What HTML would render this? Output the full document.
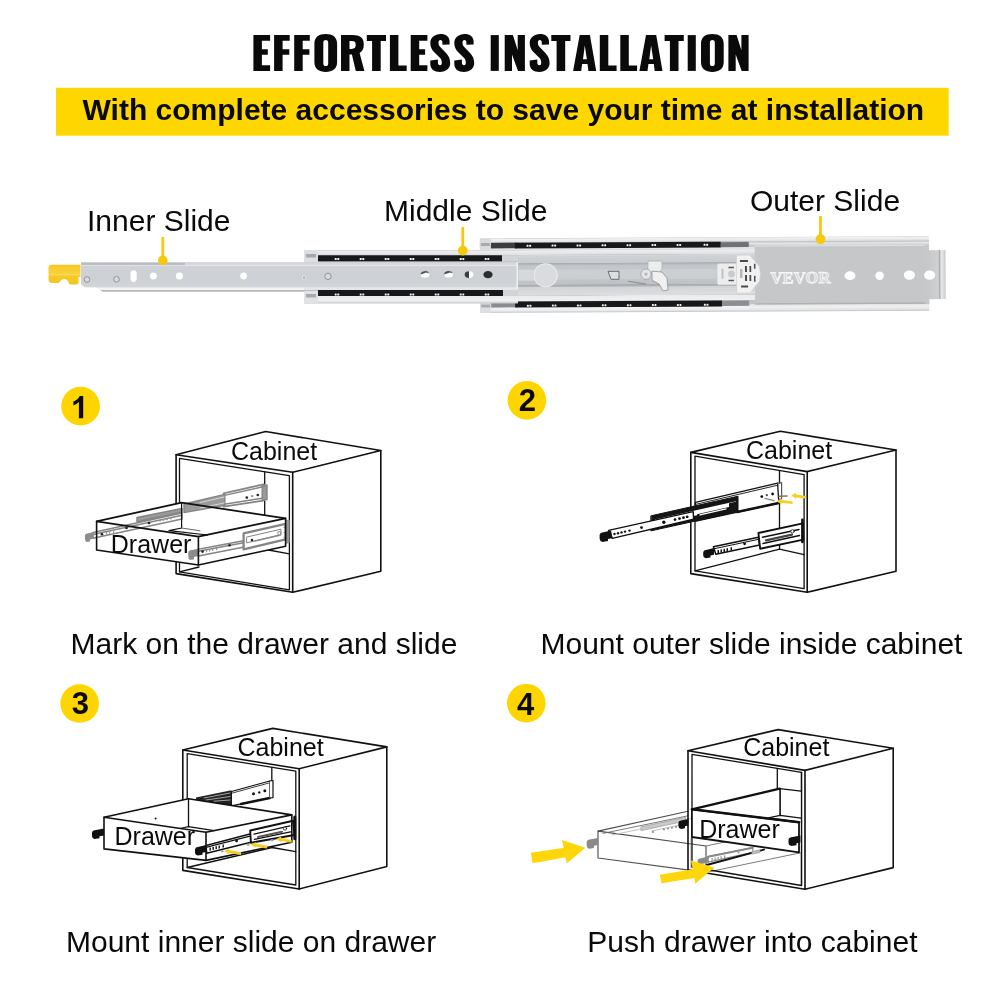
<!DOCTYPE html>
<html>
<head>
<meta charset="utf-8">
<title>Effortless Installation</title>
<style>
html,body{margin:0;padding:0;background:#fff;}
body{width:1000px;height:1000px;overflow:hidden;position:relative;font-family:"Liberation Sans",sans-serif;}
svg{position:absolute;left:0;top:0;display:block;filter:blur(0.42px);}
text{font-family:"Liberation Sans",sans-serif;fill:#0a0a0a;}
.cap{font-size:30px;}
.lbl{font-size:30px;}
.num{font-size:31px;font-weight:bold;text-anchor:middle;}
.cd{font-size:25px;}
</style>
</head>
<body>
<svg width="1000" height="1000" viewBox="0 0 1000 1000">
<defs>
  <!-- condensed heavy title glyphs, cap height 35.8, origin = top-left of glyph -->
  <path id="gE" d="M0 0H16.7V5.7H8.5V14.1H14.4V19.7H8.5V30.1H16.7V35.8H0Z"/>
  <path id="gF" d="M0 0H15.6V5.7H8.5V14.1H15.2V19.7H8.5V35.8H0Z"/>
  <path id="gL" d="M0 0H8.5V30.3H16.8V35.8H0Z"/>
  <path id="gT" d="M0 0H19.2V5.8H13.9V35.8H5.3V5.8H0Z"/>
  <path id="gI" d="M0 0H8.1V35.8H0Z"/>
  <path id="gN" d="M0 0H8.2L13 15.1V0H20.2V35.8H13.3L7.3 19.3V35.8H0Z"/>
  <path id="gA" fill-rule="evenodd" d="M0 35.8L6.6 0H16.8L23.1 35.8H15.3L14.4 28.9H9L8.1 35.8ZM11.7 10.3L13.8 24.1H9.9Z"/>
  <path id="gO" fill-rule="evenodd" d="M0 8.6C0 2 4.5 -1.1 11.35 -1.1C18.2 -1.1 22.7 2 22.7 8.6V27.2C22.7 33.8 18.2 36.9 11.35 36.9C4.5 36.9 0 33.8 0 27.2ZM8.9 8C8.9 5.6 9.7 4.9 11.35 4.9C13 4.9 13.8 5.6 13.8 8V27.8C13.8 30.2 13 30.9 11.35 30.9C9.7 30.9 8.9 30.2 8.9 27.8Z"/>
  <path id="gR" fill-rule="evenodd" d="M0 0H11.5C19 0 22.8 2.6 22.8 9.4C22.8 13.8 21.4 16.4 18.6 17.8L23.4 35.8H14.8L10.9 19.4H8.5V35.8H0ZM8.5 5.8V13.8H10.6C13.6 13.8 14.7 12.6 14.7 9.7C14.7 6.8 13.6 5.8 10.6 5.8Z"/>
  <path id="gS" d="M19.3 9.4V6.7C19.3 1.5 15.5 -1.1 10.3 -1.1C4.5 -1.1 0 2.5 0 7.9C0 11.5 1.2 14.2 3.7 16.9L9.6 22.6C11 24 11.5 25.5 11.5 27.7C11.5 29.5 10.9 30.2 9.7 30.2C8.3 30.2 7.6 29.4 7.6 27.2V24.4L0 25.3V28.9C0 33.9 3.9 36.9 9.7 36.9C15.6 36.9 19.9 33.5 19.9 28C19.9 23.9 18.4 20.5 15.7 17.8L10.2 12.2C8.7 10.7 8.2 9.4 8.2 7.6C8.2 5.7 8.9 4.9 10.1 4.9C11.5 4.9 12.1 5.8 12.1 7.6V9.7Z"/>
</defs>

<!-- ===== TITLE ===== -->
<g fill="#0a0a0a" id="title">
  <use href="#gE" x="253.4" y="35.1"/>
  <use href="#gF" x="274.1" y="35.1"/>
  <use href="#gF" x="294.2" y="35.1"/>
  <use href="#gO" x="314.4" y="35.1"/>
  <use href="#gR" x="341" y="35.1"/>
  <use href="#gT" x="366.8" y="35.1"/>
  <use href="#gL" x="389.9" y="35.1"/>
  <use href="#gE" x="410.7" y="35.1"/>
  <use href="#gS" x="430.3" y="35.1"/>
  <use href="#gS" x="454.3" y="35.1"/>
  <use href="#gI" x="490.7" y="35.1"/>
  <use href="#gN" x="504.7" y="35.1"/>
  <use href="#gS" x="529.7" y="35.1"/>
  <use href="#gT" x="551.3" y="35.1"/>
  <use href="#gA" x="573.1" y="35.1"/>
  <use href="#gL" x="599.8" y="35.1"/>
  <use href="#gL" x="620.3" y="35.1"/>
  <use href="#gA" x="639.4" y="35.1"/>
  <use href="#gT" x="664.6" y="35.1"/>
  <use href="#gI" x="687.7" y="35.1"/>
  <use href="#gO" x="701" y="35.1"/>
  <use href="#gN" x="728.4" y="35.1"/>
</g>

<!-- ===== YELLOW BAR ===== -->
<rect x="56" y="87.8" width="892.7" height="47.9" fill="#ffd700"/>
<text x="82.5" y="119.7" style="font-size:30px;font-weight:bold" id="bartxt">With complete accessories to save your time at installation</text>

<!-- ===== SLIDE LABELS ===== -->
<text class="lbl" x="87" y="231.3" id="l1">Inner Slide</text>
<text class="lbl" x="384" y="221.1" id="l2">Middle Slide</text>
<text class="lbl" x="750" y="211.1" id="l3">Outer Slide</text>

<!-- ===== RAIL ===== -->
<defs>
  <linearGradient id="gOut" x1="0" y1="238.5" x2="0" y2="313" gradientUnits="userSpaceOnUse">
    <stop offset="0" stop-color="#c9cbcd"/><stop offset="0.012" stop-color="#f1f2f3"/><stop offset="0.05" stop-color="#e2e4e6"/>
    <stop offset="0.055" stop-color="#bfc2c5"/><stop offset="0.13" stop-color="#c6c9cc"/>
    <stop offset="0.135" stop-color="#e6e8ea"/><stop offset="0.165" stop-color="#dcdee0"/>
    <stop offset="0.84" stop-color="#d6d8db"/><stop offset="0.845" stop-color="#bfc2c5"/><stop offset="0.925" stop-color="#c4c7ca"/>
    <stop offset="0.93" stop-color="#f3f4f5"/><stop offset="0.975" stop-color="#e9ebec"/><stop offset="1" stop-color="#bdbfc2"/>
  </linearGradient>
  <linearGradient id="gOutR" x1="0" y1="238.5" x2="0" y2="313" gradientUnits="userSpaceOnUse">
    <stop offset="0" stop-color="#cfd1d3"/><stop offset="0.02" stop-color="#eeeff0"/><stop offset="0.05" stop-color="#dfe1e3"/>
    <stop offset="0.065" stop-color="#c2c4c7"/><stop offset="0.085" stop-color="#e4e6e8"/><stop offset="0.11" stop-color="#d1d3d6"/>
    <stop offset="0.115" stop-color="#c4c6c9"/><stop offset="0.5" stop-color="#c9cbcd"/><stop offset="0.9" stop-color="#c2c4c7"/>
    <stop offset="0.905" stop-color="#dfe1e3"/><stop offset="0.94" stop-color="#f0f1f2"/><stop offset="0.975" stop-color="#e0e2e4"/><stop offset="1" stop-color="#b8babd"/>
  </linearGradient>
  <linearGradient id="gMid" x1="0" y1="250" x2="0" y2="303.5" gradientUnits="userSpaceOnUse">
    <stop offset="0" stop-color="#c4c7ca"/><stop offset="0.02" stop-color="#eceef0"/><stop offset="0.09" stop-color="#dfe1e4"/>
    <stop offset="0.10" stop-color="#b9bcc0"/><stop offset="0.22" stop-color="#c0c3c6"/>
    <stop offset="0.225" stop-color="#d9dbde"/><stop offset="0.74" stop-color="#d4d6d9"/>
    <stop offset="0.745" stop-color="#b9bcc0"/><stop offset="0.86" stop-color="#c0c3c6"/>
    <stop offset="0.865" stop-color="#e9ebed"/><stop offset="0.95" stop-color="#eff0f2"/><stop offset="1" stop-color="#c2c5c8"/>
  </linearGradient>
  <linearGradient id="gMidFace" x1="0" y1="255" x2="0" y2="296" gradientUnits="userSpaceOnUse">
    <stop offset="0" stop-color="#dddfe2"/><stop offset="0.05" stop-color="#cfd2d5"/><stop offset="0.2" stop-color="#c9ccd0"/><stop offset="0.215" stop-color="#a9acb0"/>
    <stop offset="0.255" stop-color="#b9bcc0"/><stop offset="0.27" stop-color="#c2c5c9"/><stop offset="0.36" stop-color="#c4c7cb"/><stop offset="0.38" stop-color="#cdd0d3"/>
    <stop offset="0.6" stop-color="#cbced1"/><stop offset="0.62" stop-color="#c1c4c8"/><stop offset="0.725" stop-color="#bec1c5"/>
    <stop offset="0.74" stop-color="#a6a9ad"/><stop offset="0.78" stop-color="#b4b7bb"/><stop offset="0.8" stop-color="#d2d4d7"/><stop offset="1" stop-color="#dcdee0"/>
  </linearGradient>
  <linearGradient id="gInner" x1="0" y1="262" x2="0" y2="292" gradientUnits="userSpaceOnUse">
    <stop offset="0" stop-color="#c6c9cc"/><stop offset="0.03" stop-color="#b7babe"/><stop offset="0.10" stop-color="#bcbfc3"/>
    <stop offset="0.115" stop-color="#dfe1e4"/><stop offset="0.15" stop-color="#ced1d5"/>
    <stop offset="0.55" stop-color="#cdd0d4"/><stop offset="0.84" stop-color="#d3d6d9"/>
    <stop offset="0.86" stop-color="#f4f5f6"/><stop offset="0.925" stop-color="#f1f2f3"/>
    <stop offset="0.94" stop-color="#b4b7ba"/><stop offset="1" stop-color="#c9cbce"/>
  </linearGradient>
  <linearGradient id="gTip" x1="0" y1="264.8" x2="0" y2="284.5" gradientUnits="userSpaceOnUse">
    <stop offset="0" stop-color="#f3c426"/><stop offset="0.15" stop-color="#f8cc2c"/><stop offset="0.42" stop-color="#f9d03a"/>
    <stop offset="0.5" stop-color="#fbd84e"/><stop offset="0.58" stop-color="#f7ca2a"/><stop offset="1" stop-color="#f2c220"/>
  </linearGradient>
  <linearGradient id="gTab" x1="929" y1="0" x2="946" y2="0" gradientUnits="userSpaceOnUse">
    <stop offset="0" stop-color="#c6c8ca"/><stop offset="0.55" stop-color="#cfd1d3"/><stop offset="0.62" stop-color="#a9abae"/>
    <stop offset="0.72" stop-color="#e8e9ea"/><stop offset="0.9" stop-color="#d4d6d8"/><stop offset="1" stop-color="#b0b2b5"/>
  </linearGradient>
  <g id="bb"><rect x="-2.3" y="-1" width="2" height="2" rx="0.6" fill="#f4f4f4"/><rect x="0.3" y="-1" width="2" height="2" rx="0.6" fill="#f4f4f4"/></g>
</defs>
<g id="rail">
 <!-- outer slide (slightly rotated like the photo) -->
 <g transform="rotate(-0.3 480 275)">
  <rect x="480" y="238.5" width="449" height="74.5" fill="url(#gOut)"/>
  <!-- middle slide face visible inside outer -->
  <rect x="518" y="250.5" width="237" height="51" fill="url(#gMid)"/>
  <rect x="518" y="255.5" width="237" height="40.5" fill="url(#gMidFace)"/>
  <circle cx="545.6" cy="275.6" r="11.6" fill="#d9dbde" stroke="#eceef0" stroke-width="1"/>
  <rect x="519" y="270" width="15" height="11" fill="#d6d8db"/>
  <!-- black ball tracks -->
  <rect x="491" y="243" width="26" height="5.5" fill="#3b3d3f"/>
  <rect x="515" y="243" width="206" height="5.7" fill="#17181a"/>
  <rect x="721" y="243.4" width="28" height="5" fill="#6f7275"/>
  <rect x="491" y="301.8" width="26" height="5.7" fill="#8a8d90"/>
  <rect x="515" y="301.8" width="207" height="5.9" fill="#17181a"/>
  <rect x="722" y="302" width="27" height="5.2" fill="#8c8f92"/>
  <g>
   <use href="#bb" x="529" y="246"/><use href="#bb" x="554" y="246"/><use href="#bb" x="579" y="246"/><use href="#bb" x="604" y="246"/><use href="#bb" x="629" y="246"/><use href="#bb" x="654" y="246"/><use href="#bb" x="679" y="246"/><use href="#bb" x="706" y="246"/>
   <use href="#bb" x="529" y="306"/><use href="#bb" x="554" y="306"/><use href="#bb" x="579" y="306"/><use href="#bb" x="604" y="306"/><use href="#bb" x="629" y="306"/><use href="#bb" x="654" y="306"/><use href="#bb" x="679" y="306"/><use href="#bb" x="706" y="306"/>
  </g>
  <!-- small left-end brackets of outer -->
  <rect x="480" y="238.5" width="11" height="11" fill="#d9dbdd"/><rect x="481" y="243" width="9" height="3" fill="#a9acaf"/>
  <rect x="480" y="302" width="11" height="11" fill="#dcdee0"/><rect x="481" y="304.5" width="9" height="3" fill="#a9acaf"/>
  <!-- latch mechanism -->
  <path d="M648 262h14v8l-3 4h-11z" fill="#eceded" stroke="#a9acaf" stroke-width="0.7"/>
  <circle cx="646" cy="275" r="5.2" fill="#e4e5e6" stroke="#9fa2a5" stroke-width="0.8"/><circle cx="646" cy="275" r="1.7" fill="#b7babd"/>
  <path d="M652 272l10 1 5 6 1 12-5 1-4-7-7-4z" fill="#f0f0f0" stroke="#8d9093" stroke-width="0.8"/>
  <path d="M628 282l18 3" stroke="#8d9093" stroke-width="1.2" fill="none"/>
  <path d="M608 272h11v8h-8z" fill="#dcdee0" stroke="#5d6063" stroke-width="0.9"/>
  <!-- brushed end plate -->
  <path d="M749 240.5h180v70.5h-180l0-4.5 6-3v-55l-6-3z" fill="url(#gOutR)"/>
  <rect x="755" y="247" width="174" height="59" fill="#c5c7c9"/>
  <rect x="755" y="247" width="174" height="1" fill="#e2e3e5"/>
  <rect x="755" y="304.6" width="174" height="1.4" fill="#aeb0b3"/>
  <!-- end tab -->
  <path d="M925 247h4v5.5h16.5v49h-16.5v4.500h-4z" fill="url(#gTab)"/>
  <!-- holes -->
  <ellipse cx="850" cy="277.6" rx="5.4" ry="4.4" fill="#fff"/>
  <ellipse cx="879.6" cy="277.8" rx="4.3" ry="4.2" fill="#fff"/>
  <ellipse cx="909.4" cy="277.4" rx="5.6" ry="4.7" fill="#fff"/>
  <ellipse cx="929.6" cy="277.5" rx="5.6" ry="4.6" fill="#fff"/>
  <!-- VEVOR -->
  <text x="770.5" y="284.8" style="font-family:'Liberation Serif',serif;font-weight:bold;font-size:16.5px;letter-spacing:0.2px;fill:#d2d4d6;stroke:#f6f6f6;stroke-width:0.9" textLength="60" lengthAdjust="spacingAndGlyphs">VEVOR</text>
  <!-- plastic clip -->
  <rect x="717" y="264.7" width="21" height="21.5" rx="2" fill="#ededee" stroke="#c2c4c6" stroke-width="0.6"/>
  <rect x="721.5" y="270" width="2" height="10" fill="#bfc1c3"/>
  <circle cx="731.5" cy="275.3" r="3.4" fill="#c9cbcd"/>
  <rect x="728.500" y="268" width="5.500" height="1.500" fill="#555"/><rect x="728.500" y="281" width="5.500" height="1.500" fill="#555"/>
  <path d="M736.500 256.500h13.500l4 5 5.500 6.500 1 7.500-1 7.500-5.500 6.500-4 5h-13.500z" fill="#f1f1f2" stroke="#c9cbcd" stroke-width="0.6"/>
  <g fill="#4a4c4e">
   <rect x="740" y="261.300" width="8" height="2"/><rect x="741" y="286.800" width="7" height="2"/>
   <rect x="745" y="267.300" width="2" height="6"/><rect x="749.500" y="267.300" width="1.700" height="6"/>
   <rect x="745" y="276.300" width="2" height="6"/><rect x="749.500" y="276.300" width="1.700" height="6"/>
   <rect x="754" y="265.300" width="1.500" height="5"/><rect x="754" y="277.300" width="1.500" height="6"/>
  </g>
  <rect x="740" y="270.300" width="2.500" height="9" fill="#b5b7b9"/>
 </g>

 <!-- middle slide -->
 <rect x="304" y="250" width="214" height="53.5" fill="url(#gMid)"/>
 <rect x="304" y="250" width="14" height="12" fill="#dddfe1"/><rect x="306" y="254" width="10" height="3.500" fill="#a6a9ac"/>
 <rect x="304" y="291" width="14" height="12.500" fill="#e0e2e4"/><rect x="306" y="294" width="10" height="3.500" fill="#a6a9ac"/>
 <rect x="318" y="255.300" width="184" height="6" fill="#17181a"/>
 <rect x="318" y="290" width="185" height="6" fill="#17181a"/>
 <rect x="502" y="255.300" width="16" height="6" fill="#d2d4d7"/><rect x="503" y="290" width="15" height="6" fill="#d2d4d7"/>
 <g>
  <use href="#bb" x="337" y="259"/><use href="#bb" x="362" y="259"/><use href="#bb" x="387" y="259"/><use href="#bb" x="412" y="259"/><use href="#bb" x="437" y="259"/><use href="#bb" x="462" y="259"/><use href="#bb" x="487" y="259"/>
  <use href="#bb" x="337" y="294.500"/><use href="#bb" x="362" y="294.500"/><use href="#bb" x="387" y="294.500"/><use href="#bb" x="412" y="294.500"/><use href="#bb" x="437" y="294.500"/><use href="#bb" x="462" y="294.500"/><use href="#bb" x="487" y="294.500"/>
 </g>

 <!-- inner slide -->
 <path d="M81 262.200H517.500V287.600H304V292H103L96 287.600H85L81 284.500Z" fill="url(#gInner)"/>
 <rect x="304" y="287.600" width="213.500" height="2.400" fill="#e4e6e8"/>
 <rect x="516.500" y="262.200" width="1.500" height="27" fill="#eef0f1"/>
 <rect x="185" y="262.500" width="332" height="3" fill="#fff" opacity="0.420"/>
 <!-- rivets / holes in inner -->
 <g fill="#d9dbde" stroke="#8f9296" stroke-width="1"><circle cx="87" cy="279.500" r="2.800"/><circle cx="116.500" cy="279.300" r="2.800"/><circle cx="328" cy="276.400" r="3.200"/></g>
 <rect x="130.500" y="270.300" width="6.200" height="11.600" rx="3.100" fill="#fff"/>
 <circle cx="153.400" cy="276" r="3.400" fill="#fff"/><circle cx="179.400" cy="276" r="3.600" fill="#fff"/><circle cx="243.600" cy="276" r="3.400" fill="#fff"/>
 <rect x="302.600" y="276" width="3" height="3" fill="#aeb1b4" stroke="#f1f2f3" stroke-width="0.600"/>
 <ellipse cx="425" cy="274.600" rx="4.400" ry="3.200" fill="#fff"/><path d="M420.600 274.600a4.400 3.200 0 0 1 8.600 -1.200l-3 -0.800z" fill="#4b4d50"/>
 <ellipse cx="448.600" cy="274.400" rx="4.400" ry="3.200" fill="#fff"/><path d="M444.200 274.400a4.400 3.200 0 0 1 8.600 -1.200l-3 -0.800z" fill="#4b4d50"/>
 <ellipse cx="469" cy="274.600" rx="4.400" ry="3.400" fill="#fff"/><path d="M469 271.200a4.400 3.400 0 0 0 0 6.800z" fill="#3b3d40"/>
 <ellipse cx="488" cy="274.600" rx="4.600" ry="3.600" fill="#2c2d2f"/>

 <!-- yellow tip -->
 <path d="M51.500 264.800H80.500V277H78.500V282.500Q78.500 284.500 76.500 284.500H71Q69 284.500 68.600 282.500Q67.500 279 64.200 279Q61 279 60 281.500Q59.500 283 57.500 283H52Q48.500 283 48.500 279.500V267.800Q48.500 264.800 51.500 264.800Z" fill="url(#gTip)"/>
</g>

<!--/RAIL-->

<!-- pointers -->
<g stroke="#f6c90e" stroke-width="2.800" fill="#f6c90e">
  <line x1="162.8" y1="237" x2="162.8" y2="260"/><circle cx="162.8" cy="260.3" r="4.800" stroke="none"/>
  <line x1="462.8" y1="227" x2="462.8" y2="250"/><circle cx="462.8" cy="250.6" r="4.900" stroke="none"/>
  <line x1="820.5" y1="216" x2="820.5" y2="239"/><circle cx="820.5" cy="239.2" r="4.900" stroke="none"/>
</g>

<!-- ===== STEP NUMBERS ===== -->
<g fill="#ffd500">
  <circle cx="80.6" cy="406.1" r="19.4"/>
  <circle cx="526.9" cy="400.4" r="19.3"/>
  <circle cx="79.7" cy="703.5" r="19.3"/>
  <circle cx="526.3" cy="703.2" r="19.3"/>
</g>
<path id="n1" d="M83.200 418.200H78.900V402Q76.500 404.300 73.400 405.400V401.500Q75.100 400.900 77 399.400Q79 397.900 79.700 396H83.200Z" fill="#0a0a0a"/>
<text class="num" x="527.3" y="411.4" id="n2">2</text>
<text class="num" x="80.4" y="714.4" id="n3">3</text>
<text class="num" x="525.7" y="714.8" id="n4">4</text>

<!--P1-->
<!-- ===== PANEL 1 ===== -->
<g id="p1" fill="none" stroke="#111" stroke-width="1.6" stroke-linejoin="round" stroke-linecap="round">
 <!-- cabinet -->
 <path d="M176.100 454.800L265.600 431.500L380.800 450.500L292.700 472.300Z"/>
 <path d="M176.100 454.800V573.600L292.700 592.300V472.300"/>
 <path d="M380.800 450.500V571.200L292.700 592.300"/>
 <path d="M179.500 571.800V458.400L289.400 475.700V589.800Z" stroke-width="1.300"/>
 <path d="M264.700 471.800V484" stroke-width="1.300"/>
 <path d="M264.700 501V514.500" stroke-width="1.300"/>
 <path d="M179.500 571.800L199 567" stroke-width="1.300"/>
 <path d="M268.500 550L289.400 553.800" stroke-width="1.300"/>

 <!-- drawer silhouette (hides cabinet lines) -->
 <path d="M96.600 521.400L181.600 502.600L285.600 518.400V546.200L198.400 565L96.600 550Z" fill="#fff" stroke="none"/>
 <!-- far slide on cabinet left wall (seen through) -->
 <g stroke="#858585" stroke-width="1.400">
  <path d="M223.6 493.4L263.400 484.300V500.600L223.600 506.600Z" fill="#fff" stroke-width="1.700"/>
  <path d="M223.6 495.600L262 487" /><path d="M224 504.300L262 498.200"/>
  <path d="M262.200 486L267 485V499.500L262.200 500.600Z" fill="#9a9a9a"/>
  <path d="M184 504L224.800 494.400V505.200L184 512.600Z" fill="#9b9b9b"/>
  <path d="M200 502.500L224 497M200 508L224 503" stroke="#d8d8d8" stroke-width="1"/>
 </g>
 <g fill="#222" stroke="none"><circle cx="246.800" cy="497.600" r="1.300"/><circle cx="257.800" cy="495" r="1.300"/><circle cx="252.200" cy="496.200" r="1.100" fill="#888"/></g>
 <!-- inner slide on drawer's left side (seen through) -->
 <g stroke="#858585" stroke-width="1.500">
  <path d="M93 532.600L182 513V519L93 538.200Z" fill="#fff"/>
  <path d="M93 534.600L182 515.200" />
  <path d="M137 517.500L182 508.500V512L137 521.800Z" fill="#9b9b9b"/>
  <path d="M85 535.500Q85 533.500 87.500 533.500L93.500 532V538.500L90 539.500V541.500L86.500 542Q85 541 85 539Z" fill="#8c8c8c" stroke="none"/>
 </g>
 <g fill="#222" stroke="none"><circle cx="102" cy="534.200" r="1.300"/><circle cx="126.500" cy="528" r="1.300"/><circle cx="149" cy="523" r="1.300"/></g>
 <g fill="#9a9a9a" stroke="none"><rect x="106" y="532" width="1.200" height="2.600"/><rect x="109" y="531.300" width="1.200" height="2.600"/><rect x="113" y="530.500" width="1.200" height="2.600"/>
  <circle cx="160" cy="520.800" r="1"/><circle cx="163.500" cy="520" r="1"/><circle cx="167" cy="519.300" r="1"/><circle cx="171" cy="518.500" r="1"/></g>

 <!-- near slide on drawer right side -->
 <g stroke="#858585" stroke-width="1.500">
  <path d="M198.400 549.200L262 537.300V543.500L198.400 556Z" fill="#fff"/>
  <path d="M198.400 551.200L262 539.200"/>
  <path d="M243.600 533.400L285.600 523.800V539.400L243.600 549.400Z" fill="#fff" stroke-width="2.300"/>
  <path d="M255 541L279 535.500" stroke-width="1.600" stroke="#9a9a9a"/>
  <rect x="278.300" y="531.800" width="2.200" height="3.600" fill="#fff" stroke-width="0.800" transform="rotate(-12 279 533)"/>
  <path d="M284 527.500L289 526.500M284 532.500L289 531.500M284 537.500L289 536.500" stroke-width="1.200"/>
  <path d="M247 537L281 529.200V534.600L247 542.800Z" stroke-width="1"/>
  <path d="M286.200 520.500L289.300 520V542.500L286.200 543.300Z" fill="#9a9a9a" stroke-width="0.800"/>
  <path d="M188.300 552.500Q188.300 550.500 190.500 550.300L198.400 548.800V556L194 557V559.300L190 560Q188.300 559 188.300 557Z" fill="#8c8c8c" stroke="none"/>
 </g>
 <g fill="#222" stroke="none"><circle cx="202.600" cy="551.600" r="1.300"/><circle cx="229.500" cy="545.200" r="1.300"/><circle cx="252" cy="540" r="1.300"/></g>
 <g fill="#9a9a9a" stroke="none"><rect x="206" y="549.600" width="1.200" height="2.600"/><rect x="209" y="549" width="1.200" height="2.600"/><rect x="212" y="548.400" width="1.200" height="2.600"/><rect x="216" y="547.600" width="1.200" height="2.600"/></g>

 <!-- drawer -->
 <path d="M96.600 521.400L198.400 536.600V565L96.600 550Z"/>
 <path d="M96.600 521.400L181.600 502.600L285.600 518.400L198.400 536.600"/>
 <path d="M285.600 518.400V546.200L198.400 565"/>
 <path d="M181.600 502.600V528L169 530.600L207.500 535" stroke-width="1.200"/>
 <path d="M181.600 528L200 530.800" stroke-width="1" stroke="#666"/>
</g>
<text class="cd" x="231" y="459.800" id="cab1">Cabinet</text>
<text class="cd" x="110.800" y="552.600" id="drw1">Drawer</text>

<!--/P1-->
<!--P2-->
<!-- ===== PANEL 2 ===== -->
<g id="p2" fill="none" stroke="#111" stroke-width="1.600" stroke-linejoin="round" stroke-linecap="round">
 <!-- cabinet -->
 <path d="M690.800 452.400L780.300 431.300L896 450L807.200 471.600Z"/>
 <path d="M690.800 452.400V573.600L807.200 592.300V471.600"/>
 <path d="M896 450V571.200L807.200 592.300"/>
 <path d="M695 570.800V456.100L804.100 474.700V588.700Z" stroke-width="1.300"/>
 <path d="M779.500 471V483M779.500 503.500V549.200" stroke-width="1.300"/>
 <path d="M695 570.800L779.500 549.200L804.100 554.600" stroke-width="1.300"/>

 <!-- lower slide -->
 <path d="M713.400 546.800L758.400 537.200L759.600 545L715.800 554.200Z" fill="#fff" stroke-width="1.500"/>
 <path d="M714 548.800L758.600 539.300" stroke-width="1"/>
 <path d="M758.400 533L802.800 523.400L803.400 539.600L760.200 548.800Z" fill="#fff" stroke-width="1.900"/>
 <path d="M762.500 537.200L799 529.400M763 543.500L799.500 535.600" stroke-width="1.500"/>
 <path d="M766 540.300L792 534.700" stroke-width="2.200" stroke="#444"/>
 <path d="M802.400 519.800V542" stroke-width="2.600"/>
 <path d="M703.200 553Q703.200 550.400 706 550L714 548V554.800L710.500 555.600V557.400L705.500 558.200Q703.200 557.400 703.200 555.500Z" fill="#111" stroke="none"/>
 <g fill="#111" stroke="none"><rect x="717.500" y="550" width="1.500" height="3.200"/><rect x="720.500" y="549.400" width="1.500" height="3.200"/><rect x="723.500" y="548.800" width="1.500" height="3.200"/><rect x="726.500" y="548.200" width="1.500" height="3.200"/><rect x="730.500" y="547.300" width="1.500" height="3.200"/>
  <circle cx="744.600" cy="543.800" r="1.400"/><circle cx="792.500" cy="531.300" r="1.700" fill="#fff" stroke="#111" stroke-width="0.800"/></g>

 <!-- upper slide -->
 <!-- outer member -->
 <path d="M695.400 502.400L777.600 483.200L778.800 503L696 521Z" fill="#fff" stroke-width="1.300"/>
 <path d="M695.600 504.400L777.700 485.200" stroke-width="0.900"/>
 <path d="M737 512L778.800 503" stroke-width="2.600"/>
 <path d="M777.600 483.200L781.600 482.600V498.800L778.600 499.400" stroke-width="1.200" stroke="#555"/>
 <!-- middle member (dark) -->
 <path d="M651.200 515.800L738 496.200V511.600L651.200 530.800Z" fill="#151515" stroke-width="1"/>
 <path d="M655 519.600L736 501.300V506.600L655 524.800Z" fill="#fff" stroke="none"/>
 <path d="M697 514.300L729 507V510.300L697 517.600Z" fill="#151515" stroke="none"/>
 <path d="M700 514.800L726 508.900" stroke="#fff" stroke-width="1.300"/>
 <path d="M729 503.300L737.500 501.300V510L729 512Z" fill="#151515" stroke="none"/>
 <!-- inner member -->
 <path d="M608.600 530.400L693.200 511.600L693.600 519.200L612.200 538.400Z" fill="#fff" stroke-width="1.400"/>
 <path d="M599.600 535.400Q599.600 533 602.400 532.600L611 530.400L612.600 538L608 539V541L602.500 542Q599.600 541 599.600 538.500Z" fill="#111" stroke="none"/>
 <g fill="#111" stroke="none">
  <circle cx="614.500" cy="534" r="1.200"/><circle cx="618" cy="533.200" r="1.200"/><circle cx="621.500" cy="532.400" r="1.200"/><circle cx="625" cy="531.600" r="1.200"/><circle cx="629.500" cy="530.600" r="1.200"/>
  <circle cx="641.500" cy="527.600" r="1.400"/><circle cx="663.800" cy="522.200" r="1.700"/>
  <circle cx="675" cy="519.600" r="1.400"/><circle cx="679.500" cy="518.600" r="1.400"/><circle cx="683.500" cy="517.700" r="1.400"/><circle cx="687.200" cy="516.800" r="1.400"/>
  <circle cx="761.800" cy="496.600" r="1.400"/><circle cx="766.800" cy="495.200" r="1.100" fill="#444"/><circle cx="772.600" cy="494" r="1.400"/>
 </g>
 <!-- screws -->
 <path d="M765 498.400L774 500.600" stroke="#888" stroke-width="1.400"/>
 <path d="M779 496.300L787 496" stroke="#777" stroke-width="1.600"/>
 <!-- cabinet front-left lines over slide? (slide passes in front) -->
</g>
<!-- yellow arrows -->
<g fill="#f7cf1e">
 <path d="M791.400 495.600L796 492.800V494.600L805.800 496V498.600L796 497.400V499Z"/>
 <path d="M776.600 501.200L781.600 498.400V500L792.600 501.400V504L781.600 502.800V504.400Z"/>
</g>
<text class="cd" x="746" y="458.900" id="cab2">Cabinet</text>

<!--/P2-->
<!--P3-->
<!-- ===== PANEL 3 ===== -->
<g id="p3" fill="none" stroke="#111" stroke-width="1.600" stroke-linejoin="round" stroke-linecap="round">
 <!-- cabinet -->
 <path d="M182.800 750L272.800 728.400L386.800 746.900L299.200 768.700Z"/>
 <path d="M182.800 750V870.400L299.200 889V768.700"/>
 <path d="M386.800 746.900V866.400L299.200 889"/>
 <path d="M187.200 867.500V753.600L295.800 771.100V885Z" stroke-width="1.300"/>
 <path d="M271.800 767.500V781" stroke-width="1.300"/>
 <path d="M187.200 867.500L272 847.500L295.800 851.600" stroke-width="1.300"/>

 <!-- upper slide on cabinet wall -->
 <path d="M231.400 791.500L269.700 781V798L231.400 805.800Z" fill="#fff" stroke-width="1.200"/>
 <path d="M231.400 793.300L269.700 782.800" stroke-width="0.800"/>
 <path d="M241 804L269.700 798" stroke-width="2.400"/>
 <path d="M269.700 781L273 780.500V797.600L269.700 798" stroke-width="1.200" fill="#fff"/>
 <path d="M196 797.400L231.400 790.300V805.600L196 800.200Z" fill="#222" stroke="none"/>
 <path d="M204 798L230 793M206 800L230 796.500M214 801.200L230 800" stroke="#ddd" stroke-width="0.700"/>
 <g fill="#111" stroke="none"><circle cx="253.500" cy="793.800" r="1.500"/><circle cx="259.300" cy="792.400" r="1.200"/><circle cx="264.800" cy="790.800" r="1.500"/></g>

 <!-- drawer body (opaque) -->
 <path d="M104 817.200L188.500 798.700L291.800 814.900V842.200L206 860.400L104 848.900Z" fill="#fff" stroke="none"/>
 <!-- right slide on drawer -->
 <path d="M206 845.400L250.900 833.700V842.200L206.700 853.200Z" fill="#fff" stroke-width="1.500"/>
 <path d="M206 847.300L250.900 835.800" stroke-width="1.200"/>
 <path d="M250.200 830.500L293.100 820.700L294.400 835L250.900 842.800Z" fill="#fff" stroke-width="1.900"/>
 <path d="M254 834.200L290 825.800M254.500 839.300L290.500 831.800" stroke-width="1.300"/>
 <path d="M258 837L282 831.800" stroke-width="2" stroke="#555"/>
 <path d="M294.800 817V838.800" stroke-width="3"/>
 <g fill="#111" stroke="none"><rect x="209.500" y="847.600" width="1.400" height="3"/><rect x="212.500" y="846.900" width="1.400" height="3"/><rect x="215.500" y="846.200" width="1.400" height="3"/><rect x="218.500" y="845.500" width="1.400" height="3"/><rect x="222.500" y="844.500" width="1.400" height="3"/>
  <circle cx="236.600" cy="840.900" r="1.400"/><circle cx="285" cy="828.600" r="1.600" fill="#fff" stroke="#111" stroke-width="0.800"/></g>
 <g stroke="#999" stroke-width="1"><circle cx="222" cy="851.300" r="0.900"/><circle cx="248" cy="844.700" r="0.900"/><circle cx="272" cy="840.200" r="0.900"/></g>

 <!-- drawer lines -->
 <path d="M104 817.200L206 832.300V860.400L104 848.900Z" fill="#fff"/>
 <path d="M104 817.200L188.500 798.700L291.800 814.900L206 832.300"/>
 <path d="M291.800 814.900V842.200L206 860.400"/>
 <path d="M188.500 798.700V826.600" stroke-width="1.300"/>
 <path d="M180 828.500L188.500 826.600L214.200 830.600" stroke-width="1.200"/>
 <circle cx="155.600" cy="818.400" r="1" fill="#111" stroke="none"/>
 <path d="M195 850Q195 847.400 197.800 847L206 845V852L202.500 852.800V854.800L197.500 855.600Q195 854.800 195 852.800Z" fill="#111" stroke="none"/>
 <!-- left hook -->
 <path d="M92 833Q92 830.600 94.800 830.200L104 828.500V835.500L99.500 836.300V838.300L94.500 839Q92 838.300 92 836Z" fill="#111" stroke="none"/>
</g>
<!-- yellow arrows -->
<g fill="#f5cd22">
 <path d="M224.200 851.200L229 848.600L229 849.900L241.100 852.300V854.900L229 853.100V854.200Z"/>
 <path d="M250.900 844.700L255.700 842.100V843.400L267.100 845.800V848.400L255.700 846.600V847.700Z"/>
 <path d="M276.200 839L281 836.400V837.700L291.800 840.200V842.800L281 840.900V842Z"/>
</g>
<text class="cd" x="237.500" y="755.500" id="cab3">Cabinet</text>
<text class="cd" x="114.500" y="845.300" id="drw3">Drawer</text>

<!--/P3-->
<!--P4-->
<!-- ===== PANEL 4 ===== -->
<g id="p4" fill="none" stroke="#111" stroke-width="1.600" stroke-linejoin="round" stroke-linecap="round">
 <!-- ghost drawer (thin grey) -->
 <g stroke="#6d6d6d" stroke-width="0.900">
  <path d="M598 831.100L706 846V872.400L598 858Z" stroke="#505050" stroke-width="1.150"/>
  <path d="M598 831.100L688 811.200" stroke="#505050" stroke-width="1.100"/>
  <path d="M603 833.400L688 815.800"/>
  <path d="M706 846L725.700 841.900"/>
  <path d="M706 872.400L801.500 852.600"/>
  <path d="M612 835L691 818.500" stroke="#bbb"/>
  <path d="M691 838V868" stroke="#999"/>
 </g>
 <!-- ghost slide on left side -->
 <path d="M641.200 826.800L685.600 817.200V821L641.200 830.600Z" fill="#c9c9c9" stroke="#9a9a9a" stroke-width="0.700"/>
 <path d="M652 831L686 823.600" stroke="#bdbdbd" stroke-width="1"/>
 <g fill="#777" stroke="none"><circle cx="653" cy="832" r="0.900"/><circle cx="664" cy="829.400" r="0.900"/><circle cx="668" cy="828.600" r="0.900"/><circle cx="672" cy="827.800" r="0.900"/><circle cx="676" cy="827" r="0.900"/></g>
 <!-- ghost grey hook -->
 <path d="M586.700 842.500Q586.700 840 589.500 839.600L598 838V845L594 845.800V848L589.500 848.800Q586.700 848 586.700 845.500Z" fill="#8a8a8a" stroke="none"/>

 <!-- cabinet -->
 <path d="M688 750.700L778 729.600L893.200 748.300L805 770.400Z"/>
 <path d="M688 750.700V870L805 889.200V770.400"/>
 <path d="M893.200 748.300V867.600L805 889.200"/>
 <path d="M692 867V754.300L801.500 772.300V885.500Z" stroke-width="1.300"/>
 <path d="M777.300 768.300V788.500" stroke-width="1.300"/>

 <!-- lower slide (grey) -->
 <path d="M708 856.600L752.800 847.500V852.400L708 862.200Z" fill="#fff" stroke="#8a8a8a" stroke-width="1.200"/>
 <path d="M708 856.800L752.800 847.700" stroke="#8a8a8a" stroke-width="2"/>
 <path d="M706.600 865L764 849.600" stroke-width="2"/>
 <path d="M752 851.500L760 849.800V852.500L752 854.200Z" fill="#bbb" stroke="#999" stroke-width="0.600"/>
 <path d="M697.500 861Q697.500 858.800 700 858.500L708.500 856.500V862.500L704 863.500L700 864Q697.500 863.500 697.500 861.500Z" fill="#8a8a8a" stroke="none"/>
 <g fill="#999" stroke="none"><rect x="711.500" y="858" width="1.300" height="2.800"/><rect x="714.500" y="857.400" width="1.300" height="2.800"/><rect x="717.500" y="856.800" width="1.300" height="2.800"/><rect x="720.500" y="856.200" width="1.300" height="2.800"/><rect x="724" y="855.400" width="1.300" height="2.800"/><circle cx="738.500" cy="852.600" r="1"/></g>

 <!-- drawer inside cabinet -->
 <path d="M691.900 809.300L779.700 788.700L801.100 791.100V852.400L691.900 837Z" fill="#fff" stroke="none"/>
 <path d="M779.700 788.700L801.100 791.100" stroke-width="1.300"/>
 <path d="M780.100 788.700V815.300" stroke-width="1.600"/>
 <path d="M769.600 817.700L780.100 815.300L801.100 818.100" stroke-width="1.200"/>
 <path d="M769.600 817.900L800 822" stroke-width="1"/>
 <path d="M691.900 809.300L779.700 788.700" stroke-width="2.300"/>
 <path d="M691.900 809.300L799 822.300V852.400L691.900 837Z" fill="#fff" stroke-width="1.800"/>
 <path d="M691.900 809.300L799 822.300" stroke-width="2.400"/>
 <path d="M801.500 772.300V885.500" stroke-width="1.300"/>
 <!-- hooks -->
 <path d="M788.500 840Q788.500 837.600 791.300 837.200L800.400 835.600V842.500L796.500 843.300V845.300L791.500 846Q788.500 845.300 788.500 843Z" fill="#111" stroke="none"/>
 <path d="M678.400 823Q678.400 820.800 681 820.400L688.400 819V825.500L685 826.300V828.300L681 829Q678.400 828.300 678.400 826Z" fill="#111" stroke="none"/>
</g>
<!-- big yellow arrows -->
<g fill="#ffd60a">
 <path d="M530.800 852.700L563.700 848L562 840L585.300 847.700L566.800 863.500L565.600 857.300L532.500 863.300Z"/>
 <path d="M659.700 874.800L692.800 869.300L690.900 860.400L714.400 867.600L695.200 883.700L694.500 878L661.600 883.200Z"/>
</g>
<text class="cd" x="743.200" y="756" id="cab4">Cabinet</text>
<text class="cd" x="699.200" y="837.900" id="drw4">Drawer</text>

<!--/P4-->

<!-- ===== CAPTIONS ===== -->
<text class="cap" x="70.5" y="653.5" id="c1">Mark on the drawer and slide</text>
<text class="cap" x="540.5" y="653.8" id="c2">Mount outer slide inside cabinet</text>
<text class="cap" x="66" y="951.5" id="c3">Mount inner slide on drawer</text>
<text class="cap" x="587.3" y="951.8" id="c4">Push drawer into cabinet</text>
</svg>
</body>
</html>
